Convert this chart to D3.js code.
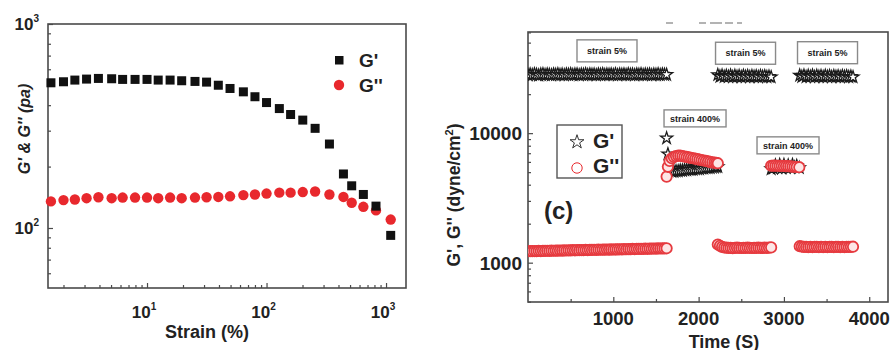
<!DOCTYPE html>
<html>
<head>
<meta charset="utf-8">
<script src="https://cdn.jsdelivr.net/npm/d3@7/dist/d3.min.js"></script>
<style>
  html, body { margin: 0; padding: 0; background: #fff; }
  svg { display: block; }
  text { font-family: "Liberation Sans", Arial, sans-serif; font-weight: bold; fill: #222; }
</style>
</head>
<body>
<svg id="chart" width="893" height="350"></svg>
<script>
// ---- Strain sweep (amplitude sweep) ----
const strain = [1.57, 2.0, 2.49, 3.12, 3.92, 5.06, 6.25, 7.94, 10, 12.4, 15.6, 19.5, 25.2, 31.5, 39.5,
                49.5, 64, 80, 100, 128, 159, 201, 255, 336, 440, 516, 646, 824, 1094];
const sweepStorage = [515, 521, 531, 537, 541, 539, 535, 535, 535, 531, 531, 527, 523, 519, 501,
                      483, 465, 440, 412, 385, 360, 338, 308, 258, 184, 161, 146, 128, 92];
const sweepLoss = [135, 137, 138, 140, 141.5, 140, 141, 141, 141, 140, 141, 140, 141, 141.5, 142,
                   143, 145, 146, 147.5, 149, 149, 150, 151, 146, 142, 133, 127, 122, 110];
const sweepXTicks = [10, 100, 1000];
const sweepYTicks = [100, 1000];

// ---- Step-strain recovery (time sweep) ----
// strain 5%
const t1 = [0, 25, 50, 75, 100, 125, 150, 175, 200, 225, 250, 275, 300, 325, 350, 375, 400, 425, 450, 475,
            500, 525, 550, 575, 600, 625, 650, 675, 700, 725, 750, 775, 800, 825, 850, 875, 900, 925, 950, 975,
            1000, 1025, 1050, 1075, 1100, 1125, 1150, 1175, 1200, 1225, 1250, 1275, 1300, 1325, 1350, 1375,
            1400, 1425, 1450, 1475, 1500, 1525, 1550, 1575, 1600, 1625];
const g1Storage = [28100, 28500, 28200, 28600, 28300, 28000, 28400, 28600, 28200, 28500,
                   28300, 28100, 28500, 28300, 28600, 28200, 28400, 28100, 28500, 28300,
                   28600, 28200, 28400, 28500, 28100, 28400, 28300, 28600, 28200, 28500,
                   28300, 28400, 28100, 28500, 28300, 28600, 28200, 28400, 28300, 28500,
                   28200, 28600, 28100, 28400, 28300, 28500, 28200, 28600, 28300, 28400,
                   28100, 28500, 28300, 28600, 28200, 28400, 28300, 28500, 28100, 28400,
                   28300, 28600, 28200, 28500, 28300, 28300];
const g1Loss = [1225, 1228, 1226, 1230, 1228, 1232, 1230, 1234, 1232, 1236,
                1234, 1238, 1236, 1240, 1238, 1242, 1240, 1244, 1242, 1246,
                1244, 1248, 1246, 1250, 1248, 1252, 1250, 1254, 1252, 1256,
                1254, 1258, 1256, 1260, 1258, 1262, 1260, 1264, 1262, 1266,
                1264, 1268, 1266, 1270, 1268, 1272, 1270, 1274, 1272, 1276,
                1274, 1278, 1276, 1280, 1278, 1282, 1280, 1284, 1282, 1286,
                1284, 1288, 1286, 1289, 1288, 1291];
// strain 400%
const t2 = [1625, 1640, 1660, 1685, 1710, 1735, 1760, 1785, 1810, 1835, 1860, 1885, 1910, 1935, 1960,
            1985, 2010, 2035, 2060, 2085, 2110, 2135, 2160, 2185, 2205, 2225];
const g2Storage = [9150, 6900, 5300, 5050, 5050, 5100, 5100, 5150, 5150, 5200, 5200, 5250, 5250, 5250,
                   5300, 5300, 5300, 5350, 5350, 5400, 5400, 5400, 5450, 5450, 5500, 5500];
const g2Loss = [4620, 5500, 6100, 6400, 6550, 6650, 6700, 6700, 6650, 6600, 6550, 6500, 6450, 6400,
                6350, 6300, 6250, 6200, 6150, 6100, 6050, 6000, 5950, 5920, 5890, 5860];
// strain 5%
const t3 = [2225, 2250, 2275, 2300, 2325, 2350, 2375, 2400, 2425, 2450, 2475, 2500, 2525, 2550, 2575,
            2600, 2625, 2650, 2675, 2700, 2725, 2750, 2775, 2800, 2825, 2850];
const g3Storage = [28200, 27400, 27900, 27300, 27800, 27300, 27900, 27200, 27800, 27300, 27700, 27200,
                   27800, 27300, 27700, 27200, 27700, 27300, 27600, 27200, 27700, 27300, 27600, 27200,
                   27400, 27100];
const g3Loss = [1380, 1350, 1325, 1310, 1305, 1300, 1300, 1295, 1300, 1305, 1300, 1298, 1302, 1300,
                1305, 1300, 1298, 1302, 1300, 1305, 1300, 1302, 1305, 1300, 1305, 1312];
// strain 400%
const t4 = [2850, 2875, 2900, 2925, 2950, 2975, 3000, 3025, 3050, 3075, 3100, 3125, 3150, 3180];
const g4Storage = [5300, 5350, 5650, 5400, 5700, 5350, 5700, 5400, 5650, 5400, 5700, 5450, 5600, 5400];
const g4Loss = [5600, 5620, 5610, 5600, 5590, 5600, 5580, 5570, 5560, 5540, 5520, 5500, 5480, 5460];
// strain 5%
const t5 = [3185, 3210, 3235, 3260, 3285, 3310, 3335, 3360, 3385, 3410, 3435, 3460, 3485, 3510, 3535,
            3560, 3585, 3610, 3635, 3660, 3685, 3710, 3735, 3760, 3785, 3810];
const g5Storage = [27900, 27300, 27900, 27200, 27800, 27300, 27900, 27200, 27800, 27300, 27700, 27200,
                   27800, 27300, 27700, 27200, 27700, 27300, 27600, 27200, 27700, 27300, 27600, 27200,
                   27400, 27100];
const g5Loss = [1340, 1332, 1325, 1322, 1320, 1325, 1320, 1322, 1325, 1320, 1322, 1320, 1325, 1320,
                1322, 1325, 1320, 1322, 1325, 1320, 1322, 1320, 1325, 1322, 1325, 1328];

const recoveryXTicks = [1000, 2000, 3000, 4000];
const recoveryXMinor = [500, 1500, 2500, 3500];
const recoveryYTicks = [1000, 10000];

const annotations = [
  { label: "strain 5%", t: 926, v: 43200 },
  { label: "strain 5%", t: 2550, v: 41400 },
  { label: "strain 5%", t: 3511, v: 41800 },
  { label: "strain 400%", t: 1958, v: 13000 },
  { label: "strain 400%", t: 3048, v: 8050 }
];

const svg = d3.select("#chart");
const frameColor = "#4a4a4a";
const red = "#e8282d";

function logMinor(domain) {
  const out = [];
  const lo = Math.floor(Math.log10(domain[0])), hi = Math.ceil(Math.log10(domain[1]));
  for (let e = lo; e <= hi; e++) {
    for (let m = 2; m <= 9; m++) {
      const v = m * Math.pow(10, e);
      if (v >= domain[0] && v <= domain[1]) out.push(v);
    }
  }
  return out;
}

function frame(g, x0, x1, y0, y1) {
  g.append("rect").attr("x", x0).attr("y", y0).attr("width", x1 - x0).attr("height", y1 - y0)
    .attr("fill", "none").attr("stroke", frameColor).attr("stroke-width", 1.6);
}

function styleAxis(sel) {
  sel.select(".domain").remove();
  sel.selectAll("line").attr("stroke", frameColor).attr("stroke-width", 1.2);
  sel.selectAll("text").remove();
}

// ================= Left panel =================
{
  const L = 48, R = 406, T = 24, B = 288;
  const x = d3.scaleLog().domain([1.484, 1469]).range([L, R]);
  const y = d3.scaleLog().domain([50.8, 1000]).range([B, T]);
  const g = svg.append("g");

  // ticks (inward)
  g.append("g").attr("transform", `translate(0,${B})`)
    .call(d3.axisBottom(x).tickValues(sweepXTicks).tickSize(-5)).call(styleAxis);
  g.append("g").attr("transform", `translate(0,${B})`)
    .call(d3.axisBottom(x).tickValues(logMinor(x.domain())).tickSize(-3)).call(styleAxis);
  g.append("g").attr("transform", `translate(${L},0)`)
    .call(d3.axisLeft(y).tickValues(sweepYTicks).tickSize(-5)).call(styleAxis);
  g.append("g").attr("transform", `translate(${L},0)`)
    .call(d3.axisLeft(y).tickValues(logMinor(y.domain())).tickSize(-3)).call(styleAxis);

  frame(g, L, R, T, B);

  // tick labels with superscript exponents
  sweepXTicks.forEach(v => {
    const t = g.append("text").attr("x", x(v) - 3).attr("y", 318)
      .attr("text-anchor", "middle").attr("font-size", 17);
    t.append("tspan").text("10");
    t.append("tspan").attr("dy", -8).attr("font-size", 10).text(String(Math.round(Math.log10(v))));
  });
  sweepYTicks.forEach(v => {
    const t = g.append("text").attr("x", 39).attr("y", y(v) + 6)
      .attr("text-anchor", "end").attr("font-size", 17);
    t.append("tspan").text("10");
    t.append("tspan").attr("dy", -8).attr("font-size", 10).text(String(Math.round(Math.log10(v))));
  });

  g.append("text").attr("x", 207).attr("y", 338).attr("text-anchor", "middle")
    .attr("font-size", 18).text("Strain (%)");
  g.append("text").attr("transform", "translate(30,129) rotate(-90)")
    .attr("text-anchor", "middle").attr("font-size", 16).attr("font-style", "italic")
    .text("G' & G'' (pa)");

  // G'' circles then G' squares
  g.append("g").selectAll("circle").data(strain).join("circle")
    .attr("cx", d => x(d)).attr("cy", (d, i) => y(sweepLoss[i])).attr("r", 5.2)
    .attr("fill", red);
  g.append("g").selectAll("rect").data(strain).join("rect")
    .attr("x", d => x(d) - 4.5).attr("y", (d, i) => y(sweepStorage[i]) - 4.5)
    .attr("width", 9).attr("height", 9).attr("fill", "#111");

  // legend
  g.append("rect").attr("x", 335).attr("y", 56).attr("width", 8.5).attr("height", 8.5).attr("fill", "#111");
  g.append("text").attr("x", 359).attr("y", 67).attr("font-size", 19).text("G'");
  g.append("circle").attr("cx", 339).attr("cy", 85).attr("r", 5.2).attr("fill", red);
  g.append("text").attr("x", 359).attr("y", 92).attr("font-size", 19).text("G''");
}

// ================= Right panel =================
{
  const L = 528, R = 888, T = 32, B = 302;
  const x = d3.scaleLinear().domain([0, 4220]).range([L, R]);
  const y = d3.scaleLog().domain([497, 60400]).range([B, T]);
  const g = svg.append("g");

  g.append("defs").append("clipPath").attr("id", "plotClip")
    .append("rect").attr("x", L).attr("y", T).attr("width", R - L).attr("height", B - T);

  g.append("g").attr("transform", `translate(0,${B})`)
    .call(d3.axisBottom(x).tickValues(recoveryXTicks).tickSize(-5)).call(styleAxis);
  g.append("g").attr("transform", `translate(0,${B})`)
    .call(d3.axisBottom(x).tickValues(recoveryXMinor).tickSize(-3)).call(styleAxis);
  g.append("g").attr("transform", `translate(${L},0)`)
    .call(d3.axisLeft(y).tickValues(recoveryYTicks).tickSize(-5)).call(styleAxis);
  g.append("g").attr("transform", `translate(${L},0)`)
    .call(d3.axisLeft(y).tickValues(logMinor(y.domain())).tickSize(-3)).call(styleAxis);

  // faint remains of a heading above the frame
  [[666, 673], [699, 706], [710, 722], [725, 733], [737, 742]].forEach(([a, b]) => {
    g.append("line").attr("x1", a).attr("x2", b).attr("y1", 23).attr("y2", 23)
      .attr("stroke", "#9a9a9a").attr("stroke-width", 1.5);
  });

  frame(g, L, R, T, B);

  recoveryXTicks.forEach(v => {
    g.append("text").attr("x", x(v)).attr("y", 325).attr("text-anchor", "middle")
      .attr("font-size", 18.5).text(v);
  });
  recoveryYTicks.forEach(v => {
    g.append("text").attr("x", 522).attr("y", y(v) + 7).attr("text-anchor", "end")
      .attr("font-size", 19).text(v);
  });
  g.append("text").attr("x", 724).attr("y", 347.5).attr("text-anchor", "middle")
    .attr("font-size", 18).text("Time (S)");
  const yl = g.append("text").attr("transform", "translate(460,195) rotate(-90)")
    .attr("text-anchor", "middle").attr("font-size", 17.5);
  yl.append("tspan").text("G', G'' (dyne/cm");
  yl.append("tspan").attr("dy", -7).attr("font-size", 11).text("2");
  yl.append("tspan").attr("dy", 7).text(")");

  const star = d3.symbol().type(d3.symbolStar).size(44);
  const plot = g.append("g").attr("clip-path", "url(#plotClip)");
  const segments = [
    [t1, g1Storage, g1Loss], [t2, g2Storage, g2Loss], [t3, g3Storage, g3Loss],
    [t4, g4Storage, g4Loss], [t5, g5Storage, g5Loss]
  ];
  segments.forEach(([t, gs, gl]) => {
    const seg = plot.append("g");
    seg.append("g").selectAll("path").data(t).join("path")
      .attr("d", star).attr("transform", (d, i) => `translate(${x(d)},${y(gs[i])})`)
      .attr("fill", "#fff").attr("stroke", "#1a1a1a").attr("stroke-width", 1.3);
    seg.append("g").selectAll("circle").data(t).join("circle")
      .attr("cx", d => x(d)).attr("cy", (d, i) => y(gl[i])).attr("r", 5.2)
      .attr("fill", "#fde6e6").attr("stroke", "#e63a3f").attr("stroke-width", 1.8);
  });

  // annotation boxes
  annotations.forEach(a => {
    const cx = x(a.t), cy = y(a.v);
    const wide = a.label.length > 9;
    const w = wide ? 62 : 60, h = wide ? 17 : 22;
    g.append("rect").attr("x", cx - w / 2).attr("y", cy - h / 2).attr("width", w).attr("height", h)
      .attr("fill", "#fff").attr("stroke", "#8a8a8a").attr("stroke-width", 1.4);
    g.append("text").attr("x", cx).attr("y", cy + 3.2).attr("text-anchor", "middle")
      .attr("font-size", 9).attr("fill", "#333").text(a.label);
  });

  // legend
  g.append("rect").attr("x", 557).attr("y", 125).attr("width", 65).attr("height", 53)
    .attr("fill", "#fff").attr("stroke", "#555").attr("stroke-width", 1.4);
  g.append("path").attr("d", d3.symbol().type(d3.symbolStar).size(60)())
    .attr("transform", "translate(577,142)").attr("fill", "#fff").attr("stroke", "#333").attr("stroke-width", 1);
  g.append("text").attr("x", 593).attr("y", 148).attr("font-size", 21).text("G'");
  g.append("circle").attr("cx", 577).attr("cy", 168).attr("r", 5.2)
    .attr("fill", "#fff").attr("stroke", red).attr("stroke-width", 1);
  g.append("text").attr("x", 593).attr("y", 173).attr("font-size", 21).text("G''");

  g.append("text").attr("x", 544).attr("y", 219).attr("font-size", 24).text("(c)");
}
</script>
</body>
</html>
